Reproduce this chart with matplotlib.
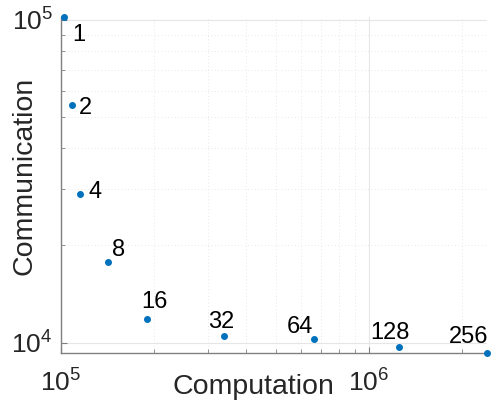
import numpy as np
import matplotlib.pyplot as plt
from matplotlib.ticker import LogLocator, NullFormatter

# Nombre de processeurs et coûts associés
procs = ["1", "2", "4", "8", "16", "32", "64", "128", "256"]
computation = [1.02e5, 1.083e5, 1.153e5, 1.418e5, 1.897e5, 3.38e5, 6.61e5, 1.254e6, 2.415e6]
communication = [1.02e5, 5.43e4, 2.887e4, 1.773e4, 1.184e4, 1.051e4, 1.024e4, 9.70e3, 9.29e3]

# Décalages des étiquettes (en points)
offsets = [(11, -11), (10, 0), (11, 3), (8, 10.5), (5.4, 14), (-1.7, 12), (-10, 10.5), (-7, 11.5), (-13, 13)]

plt.rcParams['font.family'] = ['Liberation Sans', 'DejaVu Sans']
plt.rcParams['mathtext.fontset'] = 'custom'
plt.rcParams['mathtext.rm'] = 'Liberation Sans'

fig = plt.figure(figsize=(4.96, 4.07), dpi=100)
ax = fig.add_axes([61 / 496, 54 / 407, 426 / 496, 336 / 407])

ax.plot(computation, communication, 'o', color='#0072BD', markersize=4, clip_on=False, zorder=3)
for lab, xv, yv, off in zip(procs, computation, communication, offsets):
    ax.annotate(lab, (xv, yv), xytext=off, textcoords='offset points',
                ha='center', va='center_baseline', fontsize=17, color='black')

ax.set_xscale('log')
ax.set_yscale('log')
ax.set_xlim(1e5, max(computation))
ax.set_ylim(min(communication), max(communication))

ax.xaxis.set_major_locator(LogLocator(base=10))
ax.yaxis.set_major_locator(LogLocator(base=10))
ax.xaxis.set_minor_locator(LogLocator(base=10, subs=np.arange(2, 10)))
ax.yaxis.set_minor_locator(LogLocator(base=10, subs=np.arange(2, 10)))
ax.xaxis.set_minor_formatter(NullFormatter())
ax.yaxis.set_minor_formatter(NullFormatter())

ax.grid(True, which='major', color='#e6e6e6', linewidth=0.8, linestyle='-')
ax.grid(True, which='minor', color='#e0e0e0', linewidth=0.6, linestyle=(0, (1, 3)))
ax.set_axisbelow(True)

for side in ['top', 'right']:
    ax.spines[side].set_visible(False)
for side in ['left', 'bottom']:
    ax.spines[side].set_color('#808080')
    ax.spines[side].set_linewidth(1.0)

ax.tick_params(which='both', direction='in', colors='#808080', labelcolor='#262626', labelsize=19)
ax.tick_params(which='major', length=4)
ax.tick_params(which='minor', length=3)
ax.tick_params(axis='x', which='major', pad=12)
ax.tick_params(axis='y', which='major', pad=6)

ax.set_xlabel('Computation', fontsize=20.5, color='#262626')
ax.set_ylabel('Communication', fontsize=20.5, color='#262626')
ax.xaxis.set_label_coords(192 / 426, -21 / 336)
ax.yaxis.set_label_coords(-23 / 426, 0.528)

fig.savefig('out.png', dpi=100)
